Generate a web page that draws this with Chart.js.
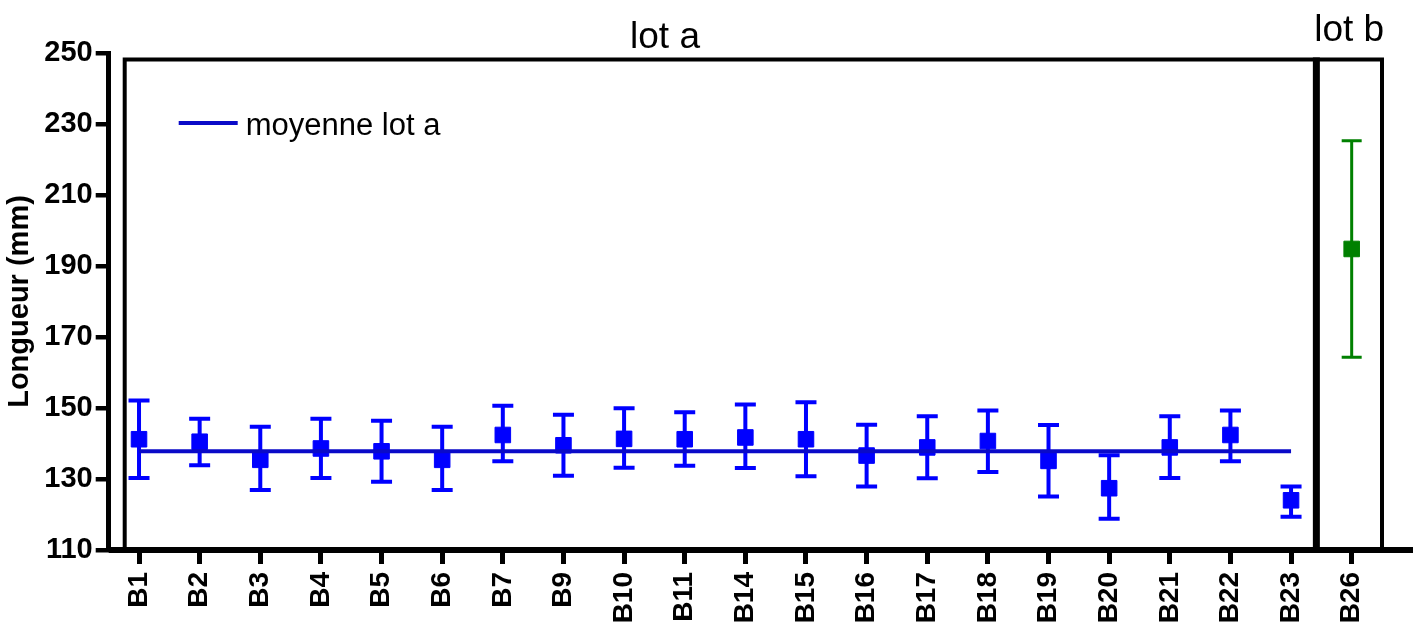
<!DOCTYPE html>
<html lang="fr">
<head>
    <meta charset="UTF-8">
    <title>Longueur lot a / lot b</title>
    <script src="https://cdn.jsdelivr.net/npm/chart.js"></script>
    <style>
        body { margin: 0; background: #fff; }
    </style>
</head>
<body>
    <canvas id="lotChart" width="1419" height="624"></canvas>

    <script>
        const categories = ['B1', 'B2', 'B3', 'B4', 'B5', 'B6', 'B7', 'B9', 'B10', 'B11', 'B14', 'B15',
                            'B16', 'B17', 'B18', 'B19', 'B20', 'B21', 'B22', 'B23', 'B26'];
        // lot a: mean and error bar ends (B26 belongs to lot b)
        const lotA     = [141.2, 140.5, 135.4, 138.6, 137.8, 135.4, 142.4, 139.5, 141.3, 141.2, 141.7, 141.2,
                          136.6, 138.9, 140.7, 135.1, 127.4, 138.9, 142.4, 124.0, null];
        const lotAHigh = [152.1, 147.0, 144.7, 147.0, 146.4, 144.7, 150.6, 148.1, 149.9, 148.8, 151.0, 151.6,
                          145.3, 147.7, 149.3, 145.2, 136.7, 147.7, 149.3, 127.9, null];
        const lotALow  = [130.3, 133.9, 126.9, 130.3, 129.2, 126.9, 135.0, 130.9, 133.2, 133.7, 133.1, 130.8,
                          127.9, 130.2, 132.0, 125.1, 118.8, 130.3, 135.0, 119.4, null];
        const lotB     = [null, null, null, null, null, null, null, null, null, null, null, null,
                          null, null, null, null, null, null, null, null, 194.8];
        const lotBHigh = [null, null, null, null, null, null, null, null, null, null, null, null,
                          null, null, null, null, null, null, null, null, 225.3];
        const lotBLow  = [null, null, null, null, null, null, null, null, null, null, null, null,
                          null, null, null, null, null, null, null, null, 164.3];
        const meanLotA = 137.8;
        const yTicks = [110, 130, 150, 170, 190, 210, 230, 250];

        const FONT = '"Liberation Sans", Arial, sans-serif';

        const meanData = categories.map(c => c === 'B26' ? null : meanLotA);

        // error bars, drawn under the markers
        const errorBars = {
            id: 'errorBars',
            beforeDatasetsDraw(chart) {
                const ctx = chart.ctx;
                const y = chart.scales.y;
                chart.data.datasets.forEach((ds, di) => {
                    if (!ds.errHigh) return;
                    const meta = chart.getDatasetMeta(di);
                    ctx.save();
                    ctx.strokeStyle = ds.borderColor;
                    ctx.lineWidth = ds.errWidth;
                    ds.errHigh.forEach((hi, i) => {
                        if (hi == null) return;
                        const x = meta.data[i].x;
                        const yh = y.getPixelForValue(hi);
                        const yl = y.getPixelForValue(ds.errLow[i]);
                        ctx.beginPath();
                        ctx.moveTo(x, yh); ctx.lineTo(x, yl);
                        ctx.moveTo(x - ds.capHalf, yh); ctx.lineTo(x + ds.capHalf, yh);
                        ctx.moveTo(x - ds.capHalf, yl); ctx.lineTo(x + ds.capHalf, yl);
                        ctx.stroke();
                    });
                    ctx.restore();
                });
            }
        };

        // frame, separator between lots, titles and legend
        const decor = {
            id: 'decor',
            afterDraw(chart) {
                const ctx = chart.ctx;
                const a = chart.chartArea;
                const x = chart.scales.x;
                const sep = (x.getPixelForValue(19) + x.getPixelForValue(20)) / 2 - 5;
                const top = a.top + 6.5;
                ctx.save();
                ctx.strokeStyle = '#000';
                // bottom axis line, longer than the plot
                ctx.lineWidth = 6;
                ctx.beginPath(); ctx.moveTo(a.left, a.bottom); ctx.lineTo(a.right + 31, a.bottom); ctx.stroke();
                // frame
                ctx.lineWidth = 4;
                ctx.beginPath();
                ctx.moveTo(a.left + 16, a.bottom); ctx.lineTo(a.left + 16, top);
                ctx.lineTo(a.right, top); ctx.lineTo(a.right, a.bottom);
                ctx.stroke();
                ctx.lineWidth = 7;
                ctx.beginPath(); ctx.moveTo(sep, top - 2); ctx.lineTo(sep, a.bottom); ctx.stroke();

                // titles
                ctx.fillStyle = '#000';
                ctx.textAlign = 'center';
                ctx.textBaseline = 'alphabetic';
                ctx.font = '37px ' + FONT;
                ctx.fillText('lot a', 665, 48);
                ctx.fillText('lot b', (sep + a.right) / 2, 41);

                // legend
                const ds = chart.data.datasets[0];
                const ly = a.top + 70;
                ctx.strokeStyle = ds.borderColor;
                ctx.lineWidth = 4;
                ctx.beginPath(); ctx.moveTo(a.left + 70, ly); ctx.lineTo(a.left + 129, ly); ctx.stroke();
                ctx.textAlign = 'left';
                ctx.font = '31px ' + FONT;
                ctx.fillText(ds.label, a.left + 137, ly + 12);
                ctx.restore();
            }
        };

        new Chart(document.getElementById('lotChart'), {
            type: 'line',
            data: {
                labels: categories,
                datasets: [
                    {
                        label: 'moyenne lot a',
                        data: meanData,
                        borderColor: '#0a0ac8',
                        borderWidth: 4,
                        pointRadius: 0,
                        fill: false
                    },
                    {
                        label: 'lot a',
                        data: lotA,
                        errHigh: lotAHigh,
                        errLow: lotALow,
                        errWidth: 4,
                        capHalf: 10.5,
                        showLine: false,
                        borderColor: '#0000ff',
                        backgroundColor: '#0000ff',
                        pointStyle: 'rect',
                        pointRadius: 11,
                        borderWidth: 1
                    },
                    {
                        label: 'lot b',
                        data: lotB,
                        errHigh: lotBHigh,
                        errLow: lotBLow,
                        errWidth: 3,
                        capHalf: 10,
                        showLine: false,
                        borderColor: '#008000',
                        backgroundColor: '#008000',
                        pointStyle: 'rect',
                        pointRadius: 11,
                        borderWidth: 1
                    }
                ]
            },
            options: {
                responsive: false,
                animation: false,
                devicePixelRatio: 1,
                layout: { padding: { top: 53, right: 37, left: 0, bottom: 0 } },
                plugins: {
                    legend: { display: false },
                    tooltip: { enabled: false }
                },
                scales: {
                    x: {
                        offset: true,
                        afterFit: s => { s.height = 74; },
                        border: { display: false },
                        grid: {
                            drawOnChartArea: false,
                            drawTicks: true,
                            tickLength: 14,
                            lineWidth: 5,
                            color: '#000'
                        },
                        ticks: {
                            autoSkip: false,
                            minRotation: 90,
                            maxRotation: 90,
                            padding: 8,
                            color: '#000',
                            font: { family: FONT, size: 28, weight: 'bold' }
                        }
                    },
                    y: {
                        min: 110,
                        max: 250,
                        afterFit: s => { s.width = 108.7; },
                        afterBuildTicks: s => { s.ticks = yTicks.map(v => ({ value: v })); },
                        border: { display: true, width: 5, color: '#000' },
                        grid: {
                            drawOnChartArea: false,
                            drawTicks: true,
                            tickLength: 13,
                            lineWidth: 4.5,
                            color: '#000'
                        },
                        ticks: {
                            padding: 3,
                            color: '#000',
                            font: { family: FONT, size: 29, weight: 'bold' }
                        },
                        title: {
                            display: true,
                            text: 'Longueur (mm)',
                            color: '#000',
                            padding: { top: 3, bottom: 0 },
                            font: { family: FONT, size: 29, weight: 'bold' }
                        }
                    }
                }
            },
            plugins: [errorBars, decor]
        });
    </script>
</body>
</html>
